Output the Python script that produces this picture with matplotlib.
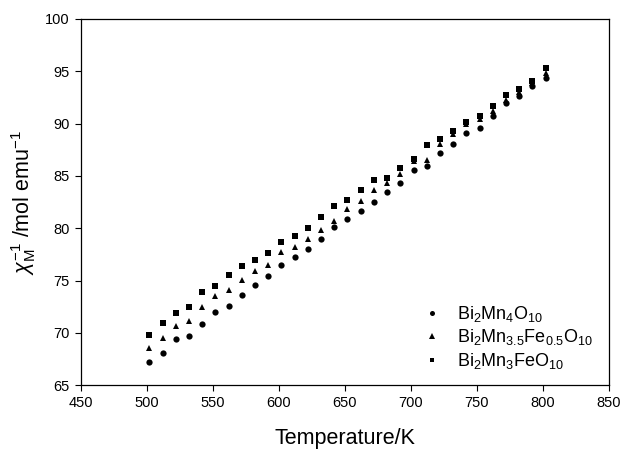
import matplotlib
matplotlib.use("Agg")
import matplotlib.pyplot as plt

plt.rcParams['font.family'] = ['Liberation Sans', 'DejaVu Sans']
plt.rcParams['mathtext.fontset'] = 'custom'
plt.rcParams['mathtext.rm'] = 'Liberation Sans'
plt.rcParams['mathtext.it'] = 'Liberation Sans:italic'
plt.rcParams['mathtext.bf'] = 'Liberation Sans:bold'

temps = [502, 512, 522, 532, 542, 552, 562, 572, 582, 592, 602, 612, 622, 632, 642,
         652, 662, 672, 682, 692, 702, 712, 722, 732, 742, 752, 762, 772, 782, 792, 802]

mn4 = [67.2, 68.1, 69.4, 69.7, 70.9, 72.0, 72.6, 73.6, 74.6, 75.4, 76.5, 77.3, 78.0, 79.0, 80.1,
       80.9, 81.7, 82.5, 83.45, 84.3, 85.6, 86.0, 87.2, 88.1, 89.15, 89.6, 90.7, 91.95, 92.6, 93.6, 94.35]

mn35fe05 = [68.6, 69.5, 70.7, 71.15, 72.5, 73.5, 74.1, 75.1, 75.9, 76.5, 77.7, 78.2, 79.0, 79.85, 80.7,
            81.8, 82.65, 83.7, 84.3, 85.2, 86.4, 86.55, 88.1, 89.0, 90.0, 90.45, 91.2, 92.3, 93.0, 93.9, 94.8]

mn3fe = [69.8, 71.0, 71.9, 72.5, 73.9, 74.5, 75.5, 76.4, 77.0, 77.65, 78.7, 79.3, 80.05, 81.05, 82.1,
         82.7, 83.7, 84.6, 84.85, 85.75, 86.6, 88.0, 88.5, 89.3, 90.2, 90.75, 91.7, 92.7, 93.3, 94.1, 95.3]

labels = [r'Bi$_2$Mn$_4$O$_{10}$', r'Bi$_2$Mn$_{3.5}$Fe$_{0.5}$O$_{10}$', r'Bi$_2$Mn$_3$FeO$_{10}$']
xticks = [450, 500, 550, 600, 650, 700, 750, 800, 850]
yticks = [65, 70, 75, 80, 85, 90, 95, 100]

fig = plt.figure(figsize=(6.23, 4.5), dpi=100)
ax = fig.add_axes([80.7/623, 1-385.3/450, (609-80.7)/623, (385.3-19)/450])

ax.plot(temps, mn4, 'o', color='black', ms=4.5, mew=0, label=labels[0], clip_on=False)
ax.plot(temps, mn35fe05, '^', color='black', ms=4.8, mew=0, label=labels[1], clip_on=False)
ax.plot(temps, mn3fe, 's', color='black', ms=4.3, mew=0, label=labels[2], clip_on=False)

ax.set_xlim(450, 850)
ax.set_ylim(65, 100)
ax.set_xticks(xticks)
ax.set_yticks(yticks)
ax.tick_params(direction='out', length=4, width=0.8, labelsize=10.5, colors='black', pad=4)
for s in ax.spines.values():
    s.set_linewidth(0.9)

ax.set_xlabel('Temperature/K', fontsize=15.5, labelpad=13)
ax.set_ylabel(r'$\chi_{\mathrm{M}}^{-1}$ /mol emu$^{-1}$', fontsize=15.5, labelpad=5)

ax.legend(loc='upper left', bbox_to_anchor=(0.631, 0.247), frameon=False, fontsize=13,
          handlelength=1.0, handletextpad=0.9, labelspacing=0.2, borderpad=0, markerscale=0.8)

fig.savefig('out.png', dpi=100)
